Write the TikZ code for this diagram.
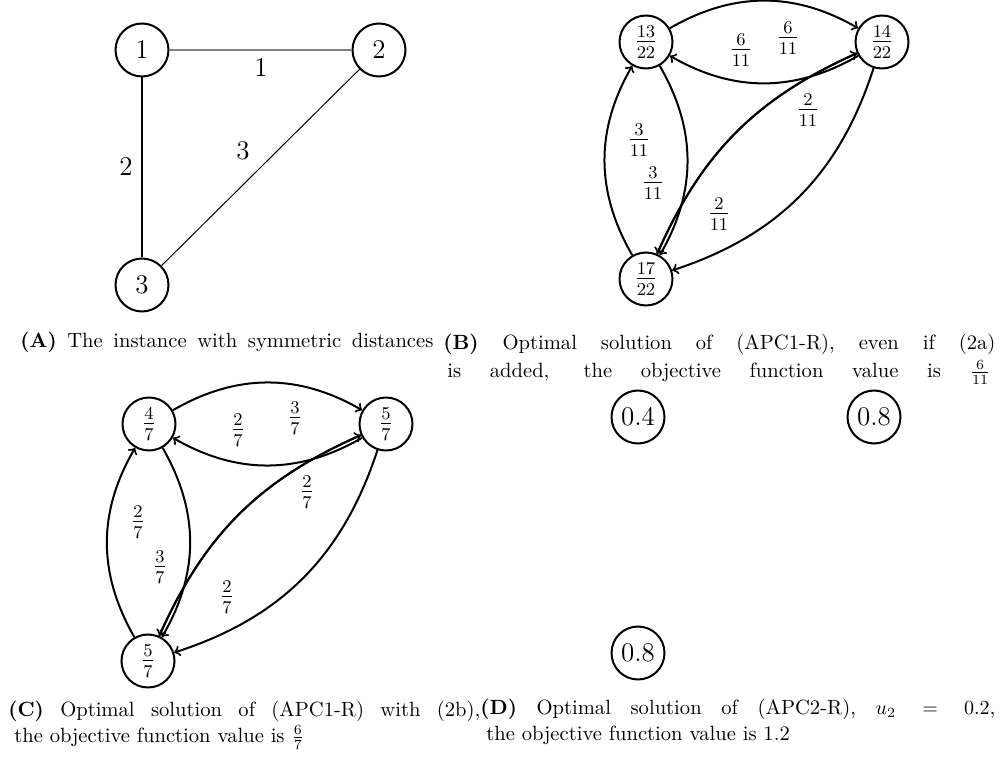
\documentclass[tikz,border=0pt]{standalone}
\usepackage{amsmath}
\begin{document}
\begin{tikzpicture}[x=0.5pt,y=-0.5pt,
  every node/.style={font=\fontsize{13.5}{16}\selectfont},
  vtx/.style={circle,draw,line width=1pt,minimum size=26.5pt,inner sep=0pt},
  arcedge/.style={->,line width=1pt},
  lbl/.style={inner sep=1pt},
  captxt/.style={inner sep=0pt,font=\fontsize{10.3}{13}\selectfont}]
\useasboundingbox (0,0) rectangle (1001,758);

% ---------- (A)
\node[vtx] (a1) at (142,50) {1};
\node[vtx] (a2) at (379,50) {2};
\node[vtx] (a3) at (142,285) {3};
\draw[gray,line width=0.8pt] (a1) -- (a2);
\draw[line width=1.2pt] (a1) -- (a3);
\draw[line width=0.5pt] (a2) -- (a3);
\node[lbl] (la12) at (261,68) {1};
\node[lbl] (la13) at (126,167) {2};
\node[lbl] (la23) at (243,151) {3};
\node[captxt,anchor=west] (capA) at (20,342) {\makebox[206.5pt][s]{\textbf{(A)} The instance with symmetric distances}};

% ---------- (B)
\node[vtx] (b1) at (646,42) {$\frac{13}{22}$};
\node[vtx] (b2) at (882,42) {$\frac{14}{22}$};
\node[vtx] (b3) at (646,279) {$\frac{17}{22}$};
\draw[arcedge] (b1) to[bend left=30] (b2);
\draw[arcedge] (b2) to[bend left=30] (b1);
\draw[arcedge] (b3) to[bend left=30] (b1);
\draw[arcedge] (b1) to[bend left=30] (b3);
\draw[arcedge] (b2) to[bend right=21] (b3);
\draw[arcedge] (b3) to[bend left=21] (b2);
\draw[arcedge] (b2) to[bend left=27] (b3);
\node[lbl] (lb21) at (741,50) {$\frac{6}{11}$};
\node[lbl] (lb12) at (788,38) {$\frac{6}{11}$};
\node[lbl] (lb31) at (639,140) {$\frac{3}{11}$};
\node[lbl] (lb13) at (653,183) {$\frac{3}{11}$};
\node[lbl] (lb23a) at (808,110) {$\frac{2}{11}$};
\node[lbl] (lb23b) at (719,214) {$\frac{2}{11}$};
\node[captxt,align=left,anchor=north west] (capB) at (443,334) {\makebox[276pt][s]{\textbf{(B)} Optimal solution of (APC1-R), even if (2a)}\\[1pt] \hspace*{2pt}\makebox[271.5pt][s]{is added, the objective function value is $\frac{6}{11}$}};

% ---------- (C)
\node[vtx] (c1) at (149,424) {$\frac{4}{7}$};
\node[vtx] (c2) at (386,424) {$\frac{5}{7}$};
\node[vtx] (c3) at (148,661) {$\frac{5}{7}$};
\draw[arcedge] (c1) to[bend left=30] (c2);
\draw[arcedge] (c2) to[bend left=30] (c1);
\draw[arcedge] (c3) to[bend left=30] (c1);
\draw[arcedge] (c1) to[bend left=30] (c3);
\draw[arcedge] (c2) to[bend right=21] (c3);
\draw[arcedge] (c3) to[bend left=21] (c2);
\draw[arcedge] (c2) to[bend left=27] (c3);
\node[lbl] (lc21) at (238,430) {$\frac{2}{7}$};
\node[lbl] (lc12) at (295,418) {$\frac{3}{7}$};
\node[lbl] (lc31) at (138,522) {$\frac{2}{7}$};
\node[lbl] (lc13) at (160,567) {$\frac{3}{7}$};
\node[lbl] (lc23a) at (307,492) {$\frac{2}{7}$};
\node[lbl] (lc23b) at (227,597) {$\frac{2}{7}$};
\node[captxt,align=left,anchor=north west] (capC) at (8,701) {\makebox[236pt][s]{\textbf{(C)} Optimal solution of (APC1-R) with (2b),}\\ \hspace*{3pt}the objective function value is $\frac{6}{7}$};

% ---------- (D)
\node[vtx] (d1) at (638,417) {0.4};
\node[vtx] (d2) at (874,417) {0.8};
\node[vtx] (d3) at (638,653) {0.8};
\node[captxt,align=left,anchor=north west] (capD) at (480,699) {\makebox[257.5pt][s]{\textbf{(D)} Optimal solution of (APC2-R), $u_2 = 0.2$,}\\ \hspace*{3pt}the objective function value is 1.2};
\end{tikzpicture}
\end{document}
